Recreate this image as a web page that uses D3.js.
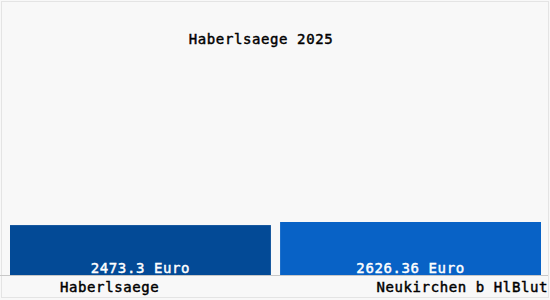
<!DOCTYPE html>
<html>
<head>
<meta charset="utf-8">
<script src="https://cdn.jsdelivr.net/npm/d3@7"></script>
<style>
  body { margin: 0; background: #fff; }
  text { font-family: "DejaVu Sans Mono", monospace; font-size: 14px; letter-spacing: 0.6px; stroke-width: 0.45px; }
</style>
</head>
<body>
<div id="chart"></div>
<script>
var w = 550;
var h = 300;

// data
var categories = ["Haberlsaege", "Neukirchen b HlBlut"];
var values = [2473.3, 2626.36];
var valueLabels = ["2473.3 Euro", "2626.36 Euro"];
var colors = ["#034a96", "#0862c6"];
var title = "Haberlsaege 2025";

var svg = d3.select("#chart")
  .append("svg")
  .attr("width", w)
  .attr("height", h);

svg.append("rect")
  .attr("x", 0).attr("y", 0)
  .attr("width", w).attr("height", h)
  .attr("fill", "#f8f8f8");

svg.append("rect")
  .attr("x", 1.5).attr("y", 1.5)
  .attr("width", w - 3).attr("height", h - 4)
  .attr("fill", "none")
  .attr("stroke", "#e4e4e4");

var x = d3.scaleBand()
  .domain(categories)
  .range([10, 541])
  .paddingInner(0.034);

var y = d3.scaleLinear()
  .domain([0, 13132])
  .range([275, 10]);

svg.selectAll("rect.bar")
  .data(values)
  .enter()
  .append("rect")
  .attr("class", "bar")
  .attr("x", function(d, i) { return x(categories[i]); })
  .attr("y", function(d) { return y(d); })
  .attr("width", x.bandwidth())
  .attr("height", function(d) { return y(0) - y(d); })
  .attr("fill", function(d, i) { return colors[i]; });

// baseline
svg.append("line")
  .attr("x1", 0).attr("x2", w - 2)
  .attr("y1", y(0) + 0.5).attr("y2", y(0) + 0.5)
  .attr("stroke", "#c8c8c8");

svg.selectAll("text.val")
  .data(valueLabels)
  .enter()
  .append("text")
  .attr("class", "val")
  .attr("x", function(d, i) { return x(categories[i]) + x.bandwidth() / 2; })
  .attr("y", y(0) - 2)
  .attr("text-anchor", "middle")
  .attr("fill", "white")
  .attr("stroke", "white")
  .text(function(d) { return d; });

svg.selectAll("text.cat")
  .data(categories)
  .enter()
  .append("text")
  .attr("class", "cat")
  .attr("x", function(d, i) { return i == 0 ? x(d) + 50 : x(d) + x.bandwidth() + 7; })
  .attr("y", 292)
  .attr("text-anchor", function(d, i) { return i == 0 ? "start" : "end"; })
  .attr("fill", "black")
  .attr("stroke", "black")
  .text(function(d) { return d; });

svg.append("text")
  .attr("x", 261)
  .attr("y", 44)
  .attr("text-anchor", "middle")
  .attr("fill", "black")
  .attr("stroke", "black")
  .text(title);
</script>
</body>
</html>
